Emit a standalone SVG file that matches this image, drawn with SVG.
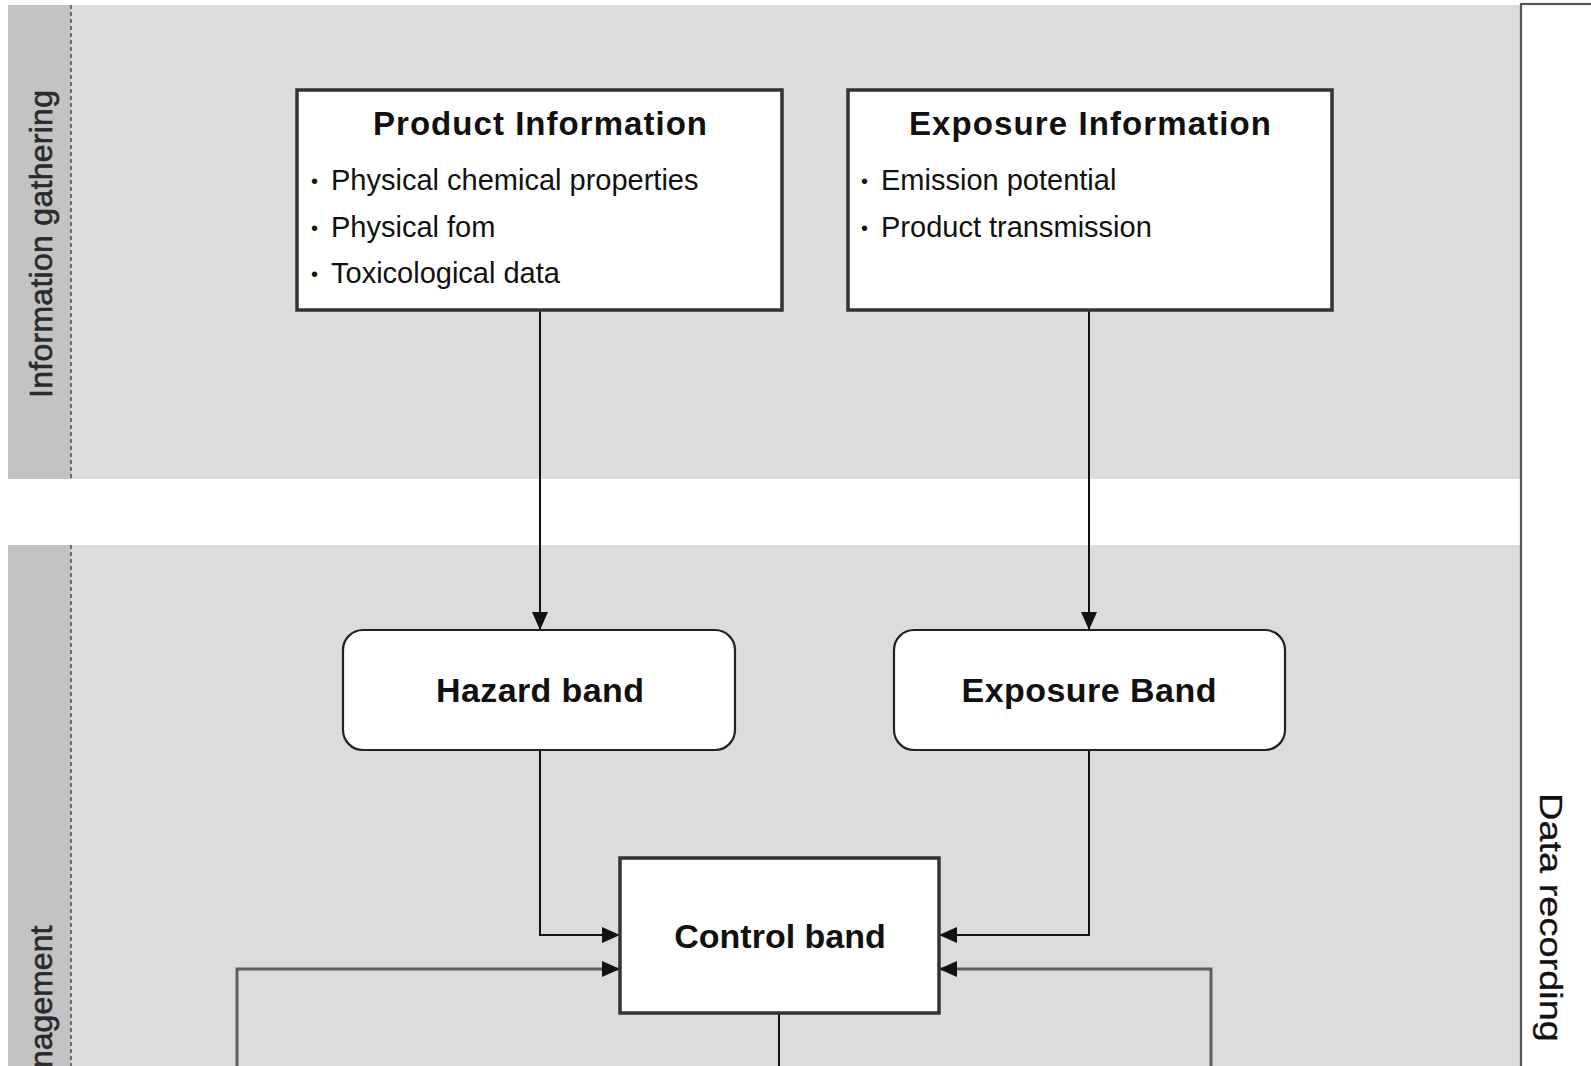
<svg xmlns="http://www.w3.org/2000/svg" width="1591" height="1066" viewBox="0 0 1591 1066">
  <style>
    .band { fill: #dcdcdc; }
    .strip { fill: #c3c3c3; }
    .sep { stroke: #555; stroke-width: 1.6; stroke-dasharray: 4 3; fill: none; }
    .lane { font-family: "Liberation Sans", Arial, sans-serif; font-size: 32px; fill: #2a2a2a; stroke: #2a2a2a; stroke-width: 0.6; }
    .info { fill: #fff; stroke: #333; stroke-width: 3.5; }
    .round { fill: #fff; stroke: #222; stroke-width: 2.2; }
    .ctrl { fill: #fff; stroke: #333; stroke-width: 3.5; }
    .title { font-family: "Liberation Sans", Arial, sans-serif; font-weight: bold; font-size: 33px; fill: #111; text-anchor: middle; }
    .item { font-family: "Liberation Sans", Arial, sans-serif; font-size: 29px; fill: #111; }
    .bul { font-size: 20px; }
    .lbl { font-family: "Liberation Sans", Arial, sans-serif; font-weight: bold; font-size: 34px; fill: #111; text-anchor: middle; }
    .conn { fill: none; stroke: #111; stroke-width: 2; }
    .conn2 { fill: none; stroke: #5e5e5e; stroke-width: 3; }
  </style>
  <defs>
    <marker id="arr" markerUnits="userSpaceOnUse" markerWidth="18" markerHeight="16" refX="18" refY="8" orient="auto">
      <path d="M0,0 L18,8 L0,16 z" fill="#111"/>
    </marker>
  </defs>

  <rect width="1591" height="1066" fill="#fff"/>

  <g id="lanes">
    <rect class="band" x="8" y="5" width="1512" height="474"/>
    <rect class="strip" x="8" y="5" width="63" height="474"/>
    <rect class="band" x="8" y="545" width="1512" height="530"/>
    <rect class="strip" x="8" y="545" width="63" height="530"/>
    <line class="sep" x1="71" y1="5" x2="71" y2="479"/>
    <line class="sep" x1="71" y1="545" x2="71" y2="1066"/>
    <text class="lane" transform="translate(52,244) rotate(-90)" text-anchor="middle" textLength="308">Information gathering</text>
    <text class="lane" transform="translate(52,1068) rotate(-90)" text-anchor="start">nagement</text>
  </g>

  <g id="data-recording">
    <rect x="1521" y="4" width="100" height="1100" fill="#fff" stroke="#555" stroke-width="2.2"/>
    <text transform="translate(1540,793) rotate(90)" font-family="Liberation Sans, Arial, sans-serif" font-size="31" fill="#111" stroke="#111" stroke-width="0.3" textLength="249" lengthAdjust="spacingAndGlyphs">Data recording</text>
  </g>

  <g id="connectors">
    <path class="conn" d="M540,310 L540,630" marker-end="url(#arr)"/>
    <path class="conn" d="M1089,310 L1089,630" marker-end="url(#arr)"/>
    <path class="conn" d="M540,750 L540,935 L620,935" marker-end="url(#arr)"/>
    <path class="conn" d="M1089,750 L1089,935 L939,935" marker-end="url(#arr)"/>
    <path class="conn2" d="M237,1066 L237,969 L620,969" marker-end="url(#arr)"/>
    <path class="conn2" d="M1211,1066 L1211,969 L939,969" marker-end="url(#arr)"/>
    <path class="conn" d="M779,1013 L779,1066"/>
  </g>

  <g id="product-information">
    <rect class="info" x="297" y="90" width="485" height="220"/>
    <text class="title" x="540" y="135" textLength="334">Product Information</text>
    <text class="item" y="190"><tspan class="bul" x="311" dy="-2">•</tspan><tspan x="331" dy="2">Physical chemical properties</tspan></text>
    <text class="item" y="237"><tspan class="bul" x="311" dy="-2">•</tspan><tspan x="331" dy="2">Physical fom</tspan></text>
    <text class="item" y="283"><tspan class="bul" x="311" dy="-2">•</tspan><tspan x="331" dy="2">Toxicological data</tspan></text>
  </g>

  <g id="exposure-information">
    <rect class="info" x="848" y="90" width="484" height="220"/>
    <text class="title" x="1090" y="135" textLength="362">Exposure Information</text>
    <text class="item" y="190"><tspan class="bul" x="861" dy="-2">•</tspan><tspan x="881" dy="2">Emission potential</tspan></text>
    <text class="item" y="237"><tspan class="bul" x="861" dy="-2">•</tspan><tspan x="881" dy="2">Product transmission</tspan></text>
  </g>

  <g id="hazard-band">
    <rect class="round" x="343" y="630" width="392" height="120" rx="20" ry="20"/>
    <text class="lbl" x="540" y="702" textLength="208">Hazard band</text>
  </g>

  <g id="exposure-band">
    <rect class="round" x="894" y="630" width="391" height="120" rx="20" ry="20"/>
    <text class="lbl" x="1089" y="702" textLength="255">Exposure Band</text>
  </g>

  <g id="control-band">
    <rect class="ctrl" x="620" y="858" width="319" height="155"/>
    <text class="lbl" x="780" y="948" font-size="35">Control band</text>
  </g>
</svg>
